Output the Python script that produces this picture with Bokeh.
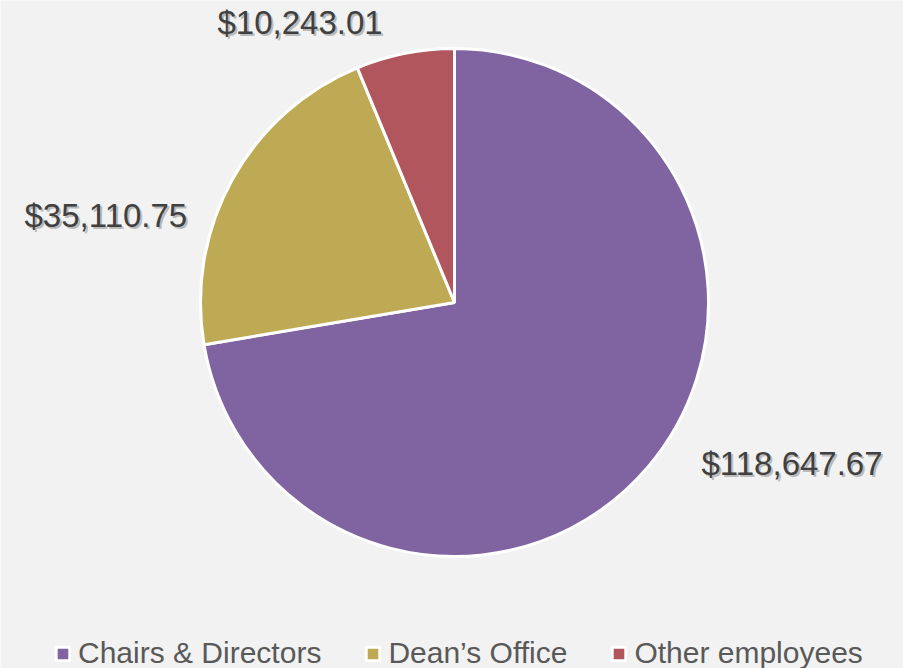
import math
from bokeh.plotting import figure
from bokeh.models import ColumnDataSource, Legend, LegendItem
from bokeh.core.properties import value
from bokeh.embed import file_html
from bokeh.resources import INLINE

categories = ["Chairs & Directors", "Dean\u2019s Office", "Other employees"]
amounts = [118647.67, 35110.75, 10243.01]
labels = ["$118,647.67", "$35,110.75", "$10,243.01"]
colors = ["#8064A2", "#BEAA55", "#B0565C"]

W, H = 903, 668
cx, cy, R = 454, 366, 254

total = sum(amounts)
starts, ends = [], []
acc = 0.0
for a in amounts:
    s = math.pi / 2 - 2 * math.pi * acc / total
    acc += a
    e = math.pi / 2 - 2 * math.pi * acc / total
    starts.append(s)
    ends.append(e)

src = ColumnDataSource(dict(cat=categories, amt=amounts, start=starts, end=ends, color=colors,
                            x=[cx] * 3, y=[cy] * 3))

p = figure(width=W, height=H, x_range=(0, W), y_range=(0, H), output_backend="svg",
           toolbar_location=None, min_border=0, background_fill_color="#F2F2F2",
           border_fill_color="#F2F2F2", outline_line_color=None)
p.axis.visible = False
p.grid.visible = False

r = p.wedge(x="x", y="y", radius=R, radius_units="screen", start_angle="start", end_angle="end",
            direction="clock", fill_color="color", line_color="white", line_width=3, source=src)

# data labels (positions only)
lx = [701, 24, 217]
ly = [205, 453, 646]
lsrc = ColumnDataSource(dict(x=lx, y=ly, t=labels))
p.text(x="x", y="y", text="t", source=lsrc, x_offset=2, y_offset=2, text_color="#8a8a8a", text_alpha=0.55,
       text_font=value("Liberation Sans"), text_font_size="33px", text_baseline="middle")
p.text(x="x", y="y", text="t", source=lsrc, text_color="#404040",
       text_font=value("Liberation Sans"), text_font_size="33px", text_baseline="middle")

items = [LegendItem(label=categories[i], renderers=[r], index=i) for i in range(3)]
legend = Legend(items=items, orientation="horizontal", location=(54, -2),
                background_fill_alpha=0, border_line_color=None,
                label_text_font="Liberation Sans", label_text_font_size="30px",
                label_text_color="#595959", glyph_width=17, glyph_height=17,
                label_standoff=7, spacing=43, padding=2, margin=0)
p.add_layout(legend, "center")

open("out.html", "w").write(file_html(p, INLINE))
